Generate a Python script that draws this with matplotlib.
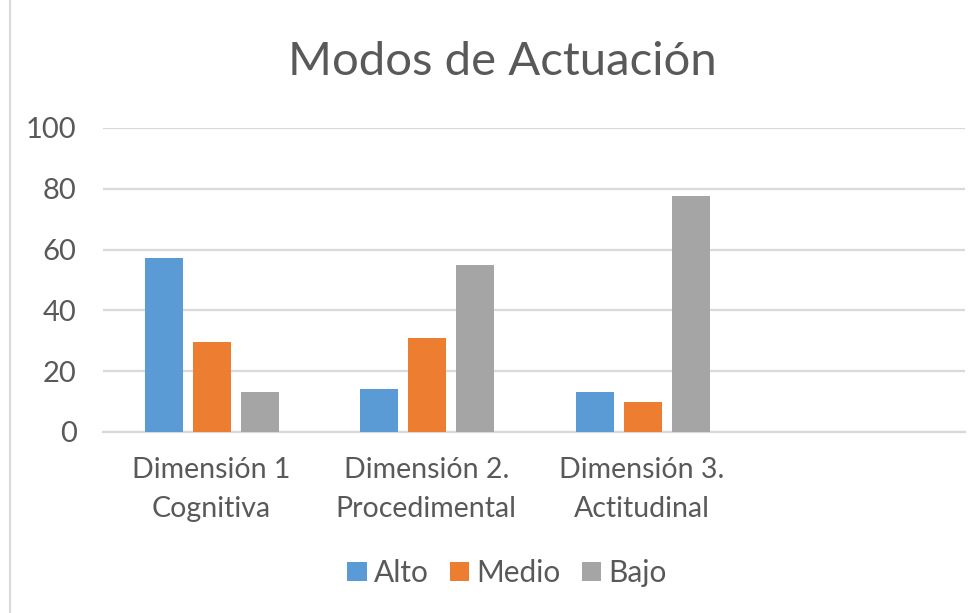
import matplotlib

matplotlib.use("Agg")

import matplotlib.pyplot as plt
from matplotlib.lines import Line2D
from matplotlib.patches import Patch
import numpy as np

plt.rcParams["font.family"] = ["Lato", "DejaVu Sans"]

CATEGORIES = ["Dimensión 1\nCognitiva", "Dimensión 2.\nProcedimental", "Dimensión 3.\nActitudinal", ""]
SERIES = ["Alto", "Medio", "Bajo"]
ALTO = [57.2, 14.0, 13.0, 0]
MEDIO = [29.5, 30.8, 9.9, 0]
BAJO = [13.2, 54.8, 77.6, 0]
Y_TICKS = [0, 20, 40, 60, 80, 100]

COLORS = ["#5b9bd5", "#ed7d31", "#a5a5a5"]
TEXT = "#595959"
GRID = "#d9d9d9"

W, H = 979, 613
fig = plt.figure(figsize=(W / 100, H / 100), dpi=100)
ax = fig.add_axes([103 / W, (H - 432) / H, (965 - 103) / W, (432 - 128) / H])

x = np.arange(len(CATEGORIES))
width = 0.176
step = 0.223
for i, (vals, color) in enumerate(zip([ALTO, MEDIO, BAJO], COLORS)):
    ax.bar(x[:3] + (i - 1) * step + 0.005, vals[:3], width=width, color=color, zorder=3)

ax.set_xlim(-0.5, len(CATEGORIES) - 0.5)
ax.set_ylim(0, 100)
ax.set_yticks(Y_TICKS)
ax.set_yticklabels([str(v) for v in Y_TICKS], fontsize=21, color=TEXT)
ax.set_xticks(x)
ax.set_xticklabels(CATEGORIES, fontsize=20.5, color=TEXT, linespacing=1.6)
ax.tick_params(axis="x", length=0, pad=18)
ax.tick_params(axis="y", length=0, pad=19)
ax.grid(True, axis="y", color=GRID, linewidth=1.6, zorder=0)
for side in ["top", "right", "left"]:
    ax.spines[side].set_visible(False)
ax.spines["bottom"].set_color(GRID)
ax.spines["bottom"].set_linewidth(1.6)

fig.text(502 / W, 1 - 62 / H, "Modos de Actuación", fontsize=34, color=TEXT,
         ha="center", va="center")

handles = [Patch(facecolor=c, edgecolor="none") for c in COLORS]
fig.legend(handles, SERIES, loc="center", bbox_to_anchor=(0.518, 1 - 573 / H),
           ncol=3, frameon=False, fontsize=21.5, handlelength=0.65, handleheight=0.65,
           handletextpad=0.25, columnspacing=0.7, labelcolor=TEXT)

fig.add_artist(Line2D([10 / W, 10 / W], [0, 1], transform=fig.transFigure,
                      color=GRID, linewidth=1.5))

fig.savefig("out.png", dpi=100)
